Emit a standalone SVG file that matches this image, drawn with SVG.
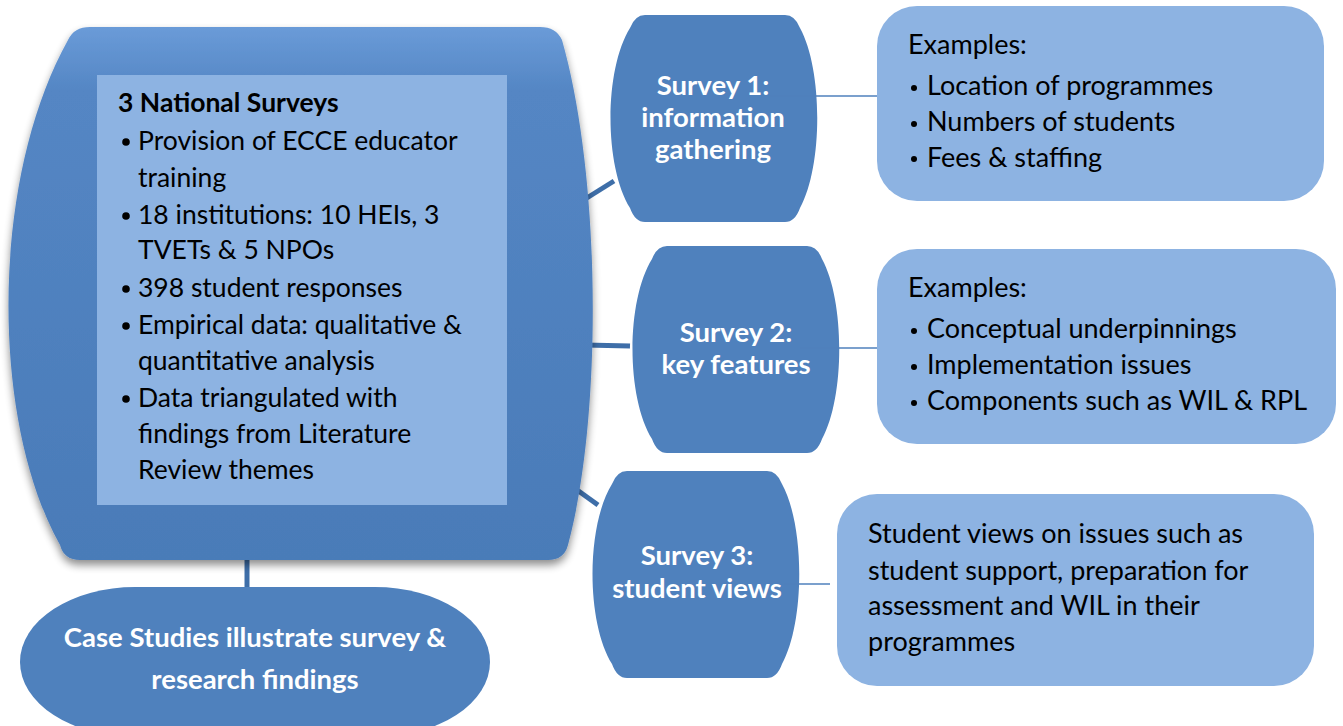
<svg xmlns="http://www.w3.org/2000/svg" width="1343" height="726" viewBox="0 0 1343 726">
<defs>
<linearGradient id="gMain" x1="0" y1="0" x2="0" y2="1">
<stop offset="0" stop-color="#6a9bd8"/>
<stop offset="0.12" stop-color="#5486c4"/>
<stop offset="1" stop-color="#4a7bb8"/>
</linearGradient>
<filter id="sh" x="-10%" y="-10%" width="120%" height="125%">
<feGaussianBlur in="SourceAlpha" stdDeviation="4"/>
<feOffset dx="0" dy="5" result="b"/>
<feComponentTransfer><feFuncA type="linear" slope="0.45"/></feComponentTransfer>
<feMerge><feMergeNode/><feMergeNode in="SourceGraphic"/></feMerge>
</filter>
<style>
.dark{fill:#4f81bd;}
.light{fill:#8db3e2;}
.tw{font-family:Lato,"Open Sans","Liberation Sans",sans-serif;font-weight:bold;fill:#ffffff;font-size:27.5px;text-anchor:middle;}
.tb{font-family:Lato,"Open Sans","Liberation Sans",sans-serif;fill:#000000;font-size:26.5px;}
.te{font-family:Lato,"Open Sans","Liberation Sans",sans-serif;fill:#000000;font-size:27px;}
.thick{stroke:#3e6ea8;stroke-width:5;fill:none;}
.thin{stroke:#4f81bd;stroke-width:1.5;fill:none;}
</style>
</defs>
<g id="connectors">
<line class="thick" x1="247" y1="555" x2="247" y2="594"/>
<line class="thick" x1="582" y1="201" x2="614" y2="181"/>
<line class="thick" x1="585" y1="345" x2="630" y2="346"/>
<line class="thick" x1="566" y1="482" x2="598" y2="505"/>
</g>
<g id="main">
<path d="M 90,27 L 540,27 Q 556,27 562,40 C 602,180 602,420 568,545 Q 564,560 548,560 L 80,560 Q 64,560 60,545 C -10,420 -10,180 68,40 Q 74,27 90,27 Z" fill="url(#gMain)" filter="url(#sh)"/>
<rect x="97" y="75" width="410" height="430" class="light"/>
<text class="tb" x="118" y="112" font-weight="bold">3 National Surveys</text>
<g class="tb">
<circle cx="126" cy="142" r="3.8" fill="#000"/>
<text x="138" y="150">Provision of ECCE educator</text>
<text x="138" y="187">training</text>
<circle cx="126" cy="216" r="3.8" fill="#000"/>
<text x="138" y="224">18 institutions: 10 HEIs, 3</text>
<text x="138" y="259">TVETs &amp; 5 NPOs</text>
<circle cx="126" cy="289" r="3.8" fill="#000"/>
<text x="138" y="297">398 student responses</text>
<circle cx="126" cy="326" r="3.8" fill="#000"/>
<text x="138" y="334">Empirical data: qualitative &amp;</text>
<text x="138" y="370">quantitative analysis</text>
<circle cx="126" cy="399" r="3.8" fill="#000"/>
<text x="138" y="407">Data triangulated with</text>
<text x="138" y="443">findings from Literature</text>
<text x="138" y="479">Review themes</text>
</g>
</g>
<g id="case">
<rect x="20" y="587" width="470" height="150" rx="115" ry="75" class="dark"/>
<text class="tw" x="255" y="647">Case Studies illustrate survey &amp;</text>
<text class="tw" x="255" y="689">research findings</text>
</g>
<g id="s1">
<path d="M 645,15 L 785,15 Q 795,15 800,28 C 823,70 823,166 800,208 Q 795,222 785,222 L 645,222 Q 635,222 630,208 C 604,166 604,70 630,28 Q 635,15 645,15 Z" class="dark"/>
<text class="tw" x="713" y="95">Survey 1:</text>
<text class="tw" x="713" y="127">information</text>
<text class="tw" x="713" y="159">gathering</text>
</g>
<g id="s2">
<path d="M 667,246 L 807,246 Q 817,246 822,259 C 845,301 845,397 822,439 Q 817,453 807,453 L 667,453 Q 657,453 652,439 C 626,397 626,301 652,259 Q 657,246 667,246 Z" class="dark"/>
<text class="tw" x="736" y="342">Survey 2:</text>
<text class="tw" x="736" y="374">key features</text>
</g>
<g id="s3">
<path d="M 627,471 L 767,471 Q 777,471 782,484 C 805,526 805,622 782,664 Q 777,678 767,678 L 627,678 Q 617,678 612,664 C 586,622 586,526 612,484 Q 617,471 627,471 Z" class="dark"/>
<text class="tw" x="697" y="565">Survey 3:</text>
<text class="tw" x="697" y="598">student views</text>
</g>
<g id="connectors-thin">
<line class="thin" x1="770" y1="96" x2="885" y2="96"/>
<line class="thin" x1="800" y1="348" x2="878" y2="348"/>
<line class="thin" x1="784" y1="584" x2="830" y2="584"/>
</g>
<g id="e1">
<rect x="877" y="6" width="447" height="195" rx="40" class="light"/>
<g class="te">
<text x="908" y="54">Examples:</text>
<circle cx="914" cy="88" r="3" fill="#000"/>
<text x="927" y="95">Location of programmes</text>
<circle cx="914" cy="124" r="3" fill="#000"/>
<text x="927" y="131">Numbers of students</text>
<circle cx="914" cy="159" r="3" fill="#000"/>
<text x="927" y="167">Fees &amp; staffing</text>
</g>
</g>
<g id="e2">
<rect x="877" y="249" width="459" height="195" rx="40" class="light"/>
<g class="te">
<text x="908" y="297">Examples:</text>
<circle cx="914" cy="331" r="3" fill="#000"/>
<text x="927" y="338">Conceptual underpinnings</text>
<circle cx="914" cy="367" r="3" fill="#000"/>
<text x="927" y="374">Implementation issues</text>
<circle cx="914" cy="403" r="3" fill="#000"/>
<text x="927" y="410">Components such as WIL &amp; RPL</text>
</g>
</g>
<g id="e3">
<rect x="837" y="494" width="477" height="192" rx="40" class="light"/>
<g class="te">
<text x="868" y="543">Student views on issues such as</text>
<text x="868" y="580">student support, preparation for</text>
<text x="868" y="615">assessment and WIL in their</text>
<text x="868" y="651">programmes</text>
</g>
</g>
</svg>
